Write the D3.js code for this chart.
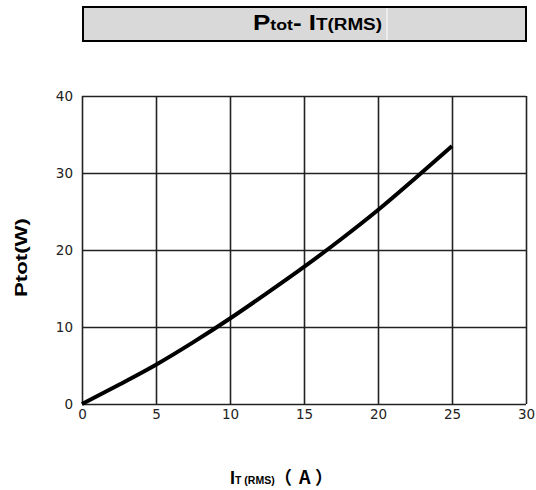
<!DOCTYPE html>
<html>
<head>
<meta charset="utf-8">
<script src="https://cdn.jsdelivr.net/npm/d3@7"></script>
<style>
  body { margin: 0; background: #fff; }
  svg { display: block; font-family: "Liberation Sans", Arial, sans-serif; }
</style>
</head>
<body>
<svg width="536" height="490"></svg>
<script>
/* ---- data ---- */
var current = [0, 2.5, 5, 7.5, 10, 12.5, 15, 17.5, 20, 22.5, 25];
var power   = [0, 2.5, 5.1, 8.0, 11.1, 14.4, 17.8, 21.4, 25.2, 29.3, 33.5];
var xTicks = [0, 5, 10, 15, 20, 25, 30];
var yTicks = [0, 10, 20, 30, 40];

/* ---- layout ---- */
var plot = {left: 82, right: 526, top: 96, bot: 404};
var gridColor = "#222";

var svg = d3.select("svg");

var x = d3.scaleLinear().domain([0, 30]).range([plot.left, plot.right]);
var y = d3.scaleLinear().domain([0, 40]).range([plot.bot, plot.top]);

// title box
svg.append("rect")
    .attr("x", 83).attr("y", 7)
    .attr("width", 443).attr("height", 34)
    .attr("fill", "#d9d9d9")
    .attr("stroke", "#000")
    .attr("stroke-width", 2);
svg.append("line")
    .attr("x1", 387).attr("x2", 387).attr("y1", 8).attr("y2", 40)
    .attr("stroke", "#fff").attr("stroke-width", 1);

var title = svg.append("text")
    .attr("x", 253).attr("y", 30)
    .attr("font-weight", "bold")
    .attr("font-size", 22)
    .attr("textLength", 129)
    .attr("lengthAdjust", "spacingAndGlyphs");
title.append("tspan").text("P");
title.append("tspan").attr("font-size", 15).text("tot");
title.append("tspan").text("- I");
title.append("tspan").attr("font-size", 16).text("T(RMS)");

// grid
var gx = svg.append("g")
    .attr("transform", "translate(0," + plot.bot + ")")
    .call(d3.axisBottom(x).tickValues(xTicks).tickSize(-(plot.bot - plot.top)).tickPadding(5));
var gy = svg.append("g")
    .attr("transform", "translate(" + plot.left + ",0)")
    .call(d3.axisLeft(y).tickValues(yTicks).tickSize(-(plot.right - plot.left)).tickPadding(9));

[gx, gy].forEach(function(g) {
    g.select(".domain").remove();
    g.selectAll(".tick line")
        .attr("stroke", gridColor)
        .attr("stroke-width", 1.6);
    g.selectAll(".tick text")
        .attr("fill", "#222")
        .attr("font-size", 13.5)
        .attr("font-family", "DejaVu Sans, sans-serif");
});
gx.selectAll(".tick text").attr("dy", "0.75em");

// curve
var pts = current.map(function(c, i) { return [c, power[i]]; });
svg.append("path")
    .datum(pts)
    .attr("fill", "none")
    .attr("stroke", "#000")
    .attr("stroke-width", 4)
    .attr("d", d3.line()
        .x(function(d) { return x(d[0]); })
        .y(function(d) { return y(d[1]); })
        .curve(d3.curveMonotoneX));

// axis titles
svg.append("text")
    .attr("transform", "translate(27,257.5) rotate(-90)")
    .attr("text-anchor", "middle")
    .attr("font-weight", "bold")
    .attr("font-size", 16)
    .attr("textLength", 79)
    .attr("lengthAdjust", "spacingAndGlyphs")
    .text("Ptot(W)");

var xt = svg.append("text")
    .attr("x", 230).attr("y", 484)
    .attr("font-weight", "bold")
    .attr("font-size", 18);
xt.append("tspan").text("I");
xt.append("tspan").attr("font-size", 10.5).text("T (RMS)");
var unit = svg.append("text")
    .attr("y", 484)
    .attr("font-weight", "bold")
    .attr("font-family", "Noto Sans CJK SC")
    .attr("font-size", 18);
unit.append("tspan").attr("x", 274).text("（");
unit.append("tspan").attr("x", 299).text("A");
unit.append("tspan").attr("x", 315).text("）");
</script>
</body>
</html>
